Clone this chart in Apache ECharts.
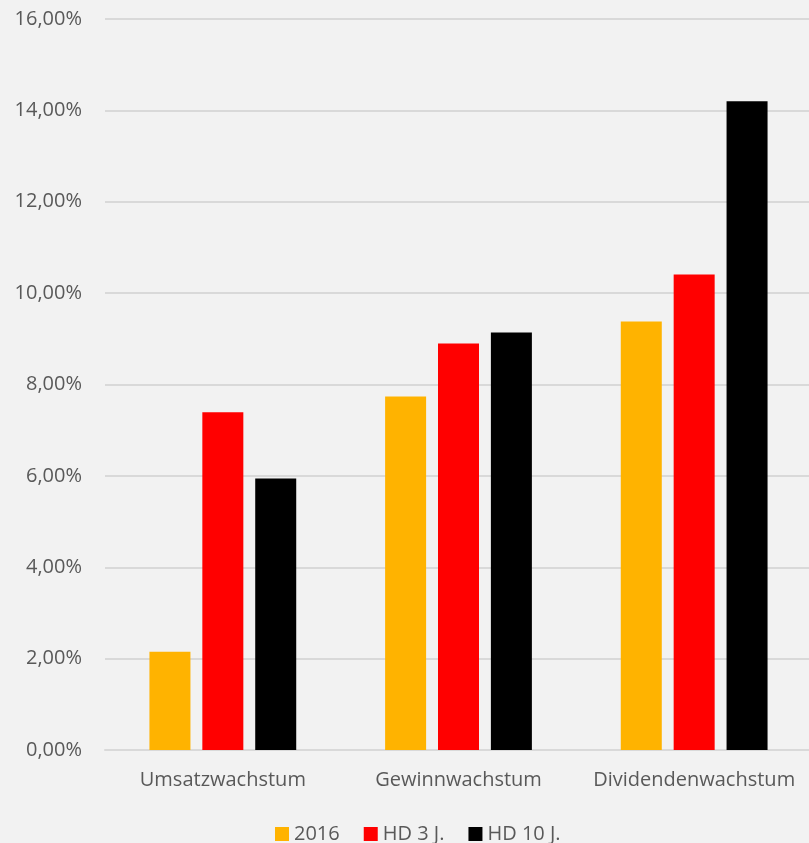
<!DOCTYPE html>
<html><head><meta charset="utf-8">
<script src="https://cdn.jsdelivr.net/npm/echarts@6/dist/echarts.min.js"></script>
<style>html,body{margin:0;padding:0;background:#f2f2f2;overflow:hidden}#c{width:812px;height:843px}</style>
</head><body><div id="c"></div>
<script>
const categories = ["Umsatzwachstum", "Gewinnwachstum", "Dividendenwachstum"];
const seriesNames = ["2016", "HD 3 J.", "HD 10 J."];
const s2016 = [2.15, 7.74, 9.38];
const hd3 = [7.39, 8.90, 10.41];
const hd10 = [5.94, 9.14, 14.20];
const colors = ["#ffb300", "#ff0000", "#000000"];
const font = "'Open Sans', sans-serif";
const chart = echarts.init(document.getElementById('c'));
const values = [s2016, hd3, hd10];
chart.setOption({
  backgroundColor: '#f2f2f2',
  animation: false,
  grid: {left: 105, right: 0, top: 19, bottom: 93, containLabel: false},
  legend: {
    bottom: -6, left: 270, itemWidth: 14, itemHeight: 14, itemGap: 24,
    icon: 'rect',
    textStyle: {color: '#595959', fontSize: 20, fontFamily: font},
    data: seriesNames
  },
  xAxis: {
    type: 'category', data: categories,
    axisLine: {lineStyle: {color: '#d9d9d9', width: 2}},
    axisTick: {show: false},
    axisLabel: {color: '#595959', fontSize: 20, fontFamily: font, margin: 20, interval: 0}
  },
  yAxis: {
    type: 'value', min: 0, max: 16, interval: 2,
    axisLine: {show: false}, axisTick: {show: false},
    splitLine: {lineStyle: {color: '#d9d9d9', width: 2}},
    axisLabel: {color: '#595959', fontSize: 20, fontFamily: font, margin: 23,
      formatter: v => v.toFixed(2).replace('.', ',') + '%'}
  },
  series: seriesNames.map((n, i) => ({
    name: n, type: 'bar', data: values[i], barWidth: 41, barGap: '29%',
    itemStyle: {color: colors[i]}
  }))
});
</script></body></html>
